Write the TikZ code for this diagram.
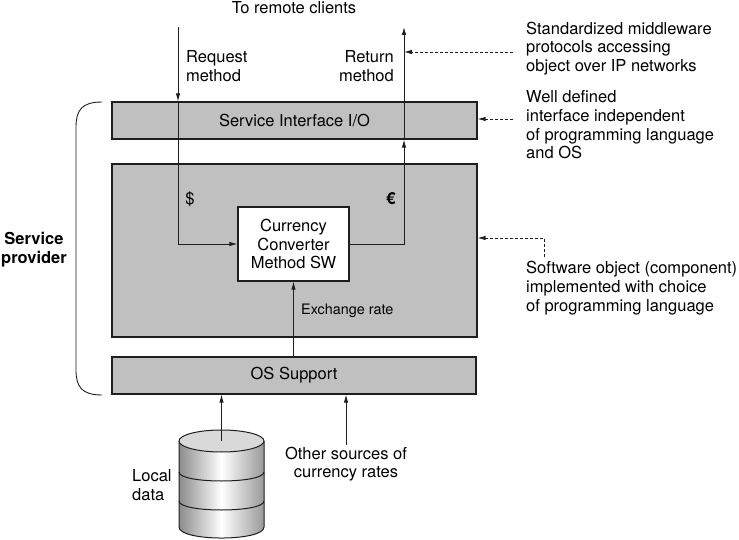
\documentclass[tikz,border=0pt]{standalone}
\usepackage{fontspec}
\setmainfont{TeX Gyre Heros}
\usetikzlibrary{arrows.meta}
\definecolor{boxgray}{RGB}{192,192,192}
\definecolor{linecol}{RGB}{30,30,30}
\tikzset{
  graybox/.style={draw=linecol, line width=1.2pt, fill=boxgray, inner sep=0pt, font=\fontsize{16.5}{18.5}\selectfont},
  whitebox/.style={draw=linecol, line width=1.2pt, fill=white, inner sep=0pt, align=center, font=\fontsize{16.5}{18.5}\selectfont},
  lbl/.style={inner sep=0pt, font=\fontsize{16.5}{18.7}\selectfont},
  flow/.style={draw=linecol, line width=0.9pt, -{Latex[length=8pt,width=4.5pt]}},
  dasharrow/.style={draw=linecol, line width=0.8pt, dash pattern=on 3pt off 2pt, -{Latex[length=8pt,width=4.5pt]}},
}
\begin{document}
\begin{tikzpicture}[x=1pt,y=-1pt]
\useasboundingbox (0,0) rectangle (739,540);

% boxes
\node[graybox, minimum width=365pt, minimum height=37pt] (si) at (294.5,120.5) {Service Interface I/O};
\node[graybox, minimum width=365pt, minimum height=173pt] (main) at (294.5,250.5) {};
\node[whitebox, minimum width=111pt, minimum height=74pt] (conv) at (293.5,244) {Currency\\Converter\\Method SW};
\node[graybox, minimum width=364pt, minimum height=37pt] (os) at (294,375.5) {OS Support};

% top labels
\node[lbl] (remote) at (294,8) {To remote clients};
\node[lbl, anchor=west, align=left] (reqlbl) at (186,66) {Request\\method};
\node[lbl, anchor=east, align=right] (retlbl) at (394,66) {Return\\method};

% request path
\coordinate (reqtop) at (178,27);
\coordinate (reqbend) at (178,244);
\draw[flow] (reqtop) -- (reqtop |- si.north);
\draw[flow] (reqtop |- si.north) -- (reqbend) -- (conv.west);

% return path
\coordinate (retbend) at (404,244);
\coordinate (rettop) at (404,27);
\draw[flow] (conv.east) -- (retbend) -- (retbend |- si.south);
\draw[flow] (retbend |- si.south) -- (rettop);

\node[lbl] (dollar) at (190,199) {\$};
\node[lbl] (euro) at (391,199) {\textbf{€}};

% exchange rate
\draw[flow] (conv.south |- os.north) -- (conv.south);
\node[inner sep=0pt, anchor=west, font=\fontsize{14.4}{16}\selectfont] (exlbl) at (301,311) {Exchange rate};

% brace
\draw[linecol, line width=0.9pt] (102,102) .. controls (82,102) and (76,110) .. (76,127) -- (76,370) .. controls (76,387) and (82,395) .. (102,395);
\node[lbl, align=center, font=\fontsize{16.5}{19}\selectfont\bfseries] (sp) at (34,250) {Service\\provider};

% cylinder
\coordinate (cyltop) at (221.5,441);
\shade[left color=black!45, right color=black!40, middle color=white]
  (179,441) -- (179,527) .. controls (179,541.7) and (264,541.7) .. (264,527) -- (264,441)
  .. controls (264,455.7) and (179,455.7) .. (179,441) -- cycle;
\draw[linecol, line width=1pt] (179,441) -- (179,527) .. controls (179,541.7) and (264,541.7) .. (264,527) -- (264,441);
\draw[linecol, line width=1pt] (179,472) .. controls (179,484) and (264,484) .. (264,472);
\draw[linecol, line width=1pt] (179,501) .. controls (179,513) and (264,513) .. (264,501);
\draw[linecol, line width=1pt, fill=black!15] (cyltop) ellipse [x radius=42.5pt, y radius=11pt];
\draw[flow] (cyltop) -- (cyltop |- os.south);
\node[lbl, anchor=west, align=left] (loc) at (132,485) {Local\\data};

% other sources
\coordinate (oth) at (346,445);
\draw[flow] (oth) -- (oth |- os.south);
\node[lbl, align=center] (othlbl) at (346,464) {Other sources of\\currency rates};

% right annotations
\node[lbl, anchor=west, align=left] (ann1) at (526,48.5) {Standardized middleware\\protocols accessing\\object over IP networks};
\node[lbl, anchor=west, align=left] (ann2) at (526,125) {Well defined\\interface independent\\of programming language\\and OS};
\node[lbl, anchor=west, align=left] (ann3) at (526,288) {Software object (component)\\implemented with choice\\of programming language};

\coordinate (a1) at (513,52);
\draw[dasharrow] (a1) -- (a1 -| rettop);
\coordinate (a2) at (513,119);
\draw[dasharrow] (a2) -- (a2 -| si.east);
\coordinate (a3s) at (544,257);
\coordinate (a3b) at (544,238);
\draw[dasharrow] (a3s) -- (a3b) -- (a3b -| main.east);
\end{tikzpicture}
\end{document}
